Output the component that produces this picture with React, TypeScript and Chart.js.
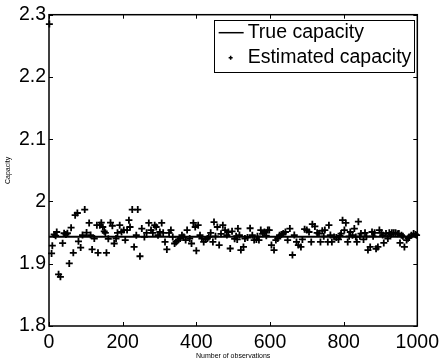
import React, { useEffect, useRef } from "react";
import { Chart, registerables } from "chart.js";
Chart.register(...registerables);

const FONT = "'Liberation Sans', Arial, Helvetica, sans-serif";

const TRUE_CAPACITY = 1.9435;
const trueObs = [0, 1000];

const estObs = [
  1, 7, 9, 14, 18, 21, 26, 31, 37, 41, 46, 50, 55, 60, 66, 71, 77, 80, 86, 91,
  97, 102, 109, 113, 117, 123, 130, 133, 138, 142, 146, 150, 153, 156, 161, 167, 172, 177, 182, 186,
  192, 197, 203, 207, 212, 217, 220, 226, 231, 237, 241, 247, 252, 259, 265, 271, 277, 282, 287, 291,
  296, 301, 306, 310, 315, 320, 326, 331, 336, 341, 345, 351, 356, 361, 366, 371, 375, 382, 387, 392,
  397, 400, 405, 410, 415, 420, 425, 430, 434, 439, 445, 448, 452, 457, 462, 467, 472, 478, 483, 487,
  492, 497, 504, 508, 511, 513, 517, 521, 528, 532, 539, 546, 552, 557, 563, 566, 570, 575, 580, 585,
  590, 594, 598, 604, 611, 616, 621, 626, 631, 636, 642, 648, 654, 661, 666, 672, 677, 684, 688, 694,
  700, 706, 712, 715, 722, 728, 733, 737, 742, 746, 749, 757, 760, 764, 768, 774, 780, 786, 790, 793,
  797, 802, 806, 811, 815, 818, 824, 829, 833, 836, 840, 844, 847, 854, 858, 862, 866, 872, 877, 880,
  884, 888, 893, 897, 902, 906, 909, 915, 920, 924, 928, 931, 936, 941, 946, 950, 953, 957, 961, 965,
  971, 975, 978, 984, 990, 995, 998,
];

const estVal = [
  2.285, 1.9165, 1.929, 1.947, 1.945, 1.951, 1.883, 1.879, 1.933, 1.949, 1.947, 1.949, 1.9005, 1.958, 1.9175, 1.978, 1.9815, 1.936, 1.926, 1.946,
  1.987, 1.95, 1.9656, 1.946, 1.923, 1.9405, 1.962, 1.9175, 1.962, 1.966, 1.959, 1.952, 1.9496, 1.9175, 1.94, 1.966, 1.961, 1.9325, 1.9405, 1.9496,
  1.962, 1.951, 1.954, 1.938, 1.954, 1.97, 1.959, 1.987, 1.927, 1.9458, 1.987, 1.912, 1.9565, 1.943, 1.9496, 1.9656, 1.954, 1.9496, 1.962, 1.959,
  1.9458, 1.951, 1.9656, 1.9496, 1.935, 1.923, 1.9496, 1.954, 1.943, 1.9325, 1.935, 1.938, 1.9405, 1.9458, 1.943, 1.938, 1.954, 1.9405, 1.9325, 1.9656,
  1.959, 1.921, 1.962, 1.9458, 1.9405, 1.935, 1.939, 1.9405, 1.943, 1.9496, 1.935, 1.967, 1.944, 1.959, 1.93, 1.948, 1.962, 1.954, 1.946, 1.951,
  1.9245, 1.952, 1.94, 1.944, 1.939, 1.9565, 1.946, 1.922, 1.927, 1.9405, 1.942, 1.957, 1.9458, 1.938, 1.939, 1.944, 1.938, 1.954, 1.948, 1.951,
  1.945, 1.954, 1.954, 1.93, 1.922, 1.938, 1.9405, 1.9458, 1.947, 1.9485, 1.951, 1.938, 1.9565, 1.914, 1.946, 1.935, 1.93, 1.927, 1.939, 1.9555,
  1.954, 1.951, 1.935, 1.9636, 1.96, 1.9496, 1.9485, 1.935, 1.953, 1.944, 1.954, 1.935, 1.962, 1.946, 1.935, 1.943, 1.942, 1.939, 1.945, 1.9485,
  1.97, 1.954, 1.9656, 1.935, 1.944, 1.951, 1.9458, 1.9565, 1.943, 1.935, 1.9676, 1.944, 1.9485, 1.939, 1.9496, 1.944, 1.922, 1.927, 1.951, 1.944,
  1.9496, 1.924, 1.927, 1.954, 1.9496, 1.946, 1.9335, 1.9485, 1.9405, 1.9496, 1.947, 1.9496, 1.9496, 1.9496, 1.948, 1.9485, 1.9335, 1.9458, 1.944, 1.927,
  1.938, 1.941, 1.943, 1.9458, 1.9485, 1.947, 1.9458,
];

const xTicks = [0, 200, 400, 600, 800, 1000];
const yTicks = [1.8, 1.9, 2.0, 2.1, 2.2, 2.3];
const legendLabels = ["True capacity", "Estimated capacity"];

const framePlugin = {
  id: "matlabFrame",
  beforeDatasetsDraw(chart: any) {
    const { ctx, chartArea, scales } = chart;
    const { left, right, top, bottom } = chartArea;
    ctx.save();
    ctx.strokeStyle = "#000";
    ctx.lineWidth = 1.5;
    ctx.strokeRect(left, top, right - left, bottom - top);
    ctx.lineWidth = 1;
    const L = 4;
    ctx.beginPath();
    for (const v of xTicks) {
      const px = Math.round(scales.x.getPixelForValue(v)) + 0.5;
      ctx.moveTo(px, bottom);
      ctx.lineTo(px, bottom - L);
      ctx.moveTo(px, top);
      ctx.lineTo(px, top + L);
    }
    for (const v of yTicks) {
      const py = Math.round(scales.y.getPixelForValue(v)) + 0.5;
      ctx.moveTo(left, py);
      ctx.lineTo(left + L, py);
      ctx.moveTo(right, py);
      ctx.lineTo(right - L, py);
    }
    ctx.stroke();
    ctx.restore();
  },
  afterDraw(chart: any) {
    const { ctx, chartArea } = chart;
    const { right, top } = chartArea;
    ctx.save();
    ctx.strokeStyle = "#000";
    ctx.font = `19.5px ${FONT}`;
    const tw = Math.max(...legendLabels.map((t) => ctx.measureText(t).width));
    const bx1 = right - 4;
    const by0 = top + 5;
    const bx0 = bx1 - tw - 36;
    const bh = 52;
    ctx.fillStyle = "#fff";
    ctx.fillRect(bx0, by0, bx1 - bx0, bh);
    ctx.lineWidth = 1;
    ctx.strokeRect(Math.round(bx0) + 0.5, Math.round(by0) + 0.5, Math.round(bx1 - bx0), bh);
    ctx.fillStyle = "#000";
    ctx.textBaseline = "middle";
    ctx.textAlign = "left";
    const tx = bx0 + 34;
    const r1 = by0 + 13;
    const r2 = by0 + 38;
    ctx.lineWidth = 1.5;
    ctx.beginPath();
    ctx.moveTo(bx0 + 5, r1);
    ctx.lineTo(bx0 + 30, r1);
    ctx.stroke();
    ctx.fillText(legendLabels[0], tx, r1);
    ctx.beginPath();
    ctx.moveTo(bx0 + 15, r2);
    ctx.lineTo(bx0 + 19, r2);
    ctx.moveTo(bx0 + 17, r2 - 2);
    ctx.lineTo(bx0 + 17, r2 + 2);
    ctx.stroke();
    ctx.fillText(legendLabels[1], tx, r2);
    ctx.restore();
  },
};

export default function App() {
  const ref = useRef<HTMLCanvasElement>(null);
  useEffect(() => {
    if (!ref.current) return;
    const chart = new Chart(ref.current, {
      type: "scatter",
      data: {
        datasets: [
          {
            type: "line",
            label: legendLabels[0],
            data: trueObs.map((x) => ({ x, y: TRUE_CAPACITY })),
            borderColor: "#000",
            borderWidth: 2,
            pointRadius: 0,
            showLine: true,
          } as any,
          {
            type: "scatter",
            label: legendLabels[1],
            data: estObs.map((x, i) => ({ x, y: estVal[i] })),
            pointStyle: "cross",
            pointRadius: 3.5,
            borderColor: "#000",
            backgroundColor: "#000",
            borderWidth: 1.8,
            clip: false,
          } as any,
        ],
      },
      options: {
        responsive: false,
        animation: false,
        devicePixelRatio: 1,
        layout: { padding: { left: 0, right: 25, top: 14, bottom: 0 } },
        plugins: { legend: { display: false }, tooltip: { enabled: false } },
        scales: {
          x: {
            type: "linear",
            min: 0,
            max: 1000,
            grid: { display: false, drawTicks: false },
            border: { display: false },
            afterBuildTicks: (s: any) => {
              s.ticks = xTicks.map((v) => ({ value: v }));
            },
            afterFit: (s: any) => {
              s.height = 35;
            },
            ticks: {
              autoSkip: false,
              maxRotation: 0,
              padding: 5,
              color: "#000",
              font: { family: FONT, size: 19.5 },
              callback: (v: any) => String(v),
            },
            title: {
              display: true,
              text: "Number of observations",
              color: "#000",
              font: { family: FONT, size: 7 },
              padding: { top: 0, bottom: 1 },
            },
          },
          y: {
            type: "linear",
            min: 1.8,
            max: 2.3,
            grid: { display: false, drawTicks: false },
            border: { display: false },
            afterBuildTicks: (s: any) => {
              s.ticks = yTicks.map((v) => ({ value: v }));
            },
            afterFit: (s: any) => {
              s.width = 49;
            },
            ticks: {
              autoSkip: false,
              padding: 3,
              color: "#000",
              font: { family: FONT, size: 19.5 },
              callback: (v: any) => String(Math.round(Number(v) * 10) / 10),
            },
            title: {
              display: true,
              text: "Capacity",
              color: "#000",
              font: { family: FONT, size: 7 },
              padding: { top: 4, bottom: 0 },
            },
          },
        },
      },
      plugins: [framePlugin],
    });
    return () => chart.destroy();
  }, []);
  return (
    <div style={{ position: "fixed", left: 0, top: 0, width: 444, height: 361, background: "#fff" }}>
      <canvas ref={ref} width={444} height={361} />
    </div>
  );
}
